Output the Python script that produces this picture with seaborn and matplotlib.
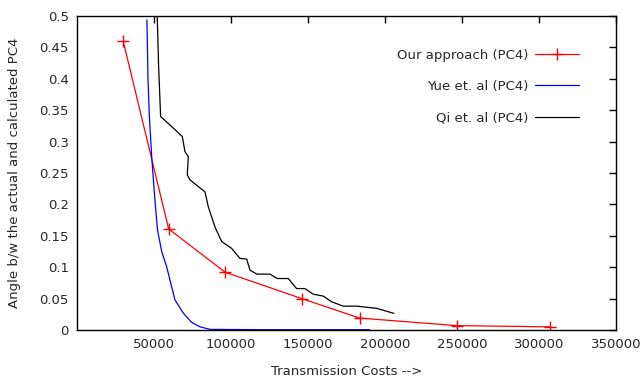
import numpy as np, pandas as pd
import matplotlib
matplotlib.use("Agg")
import matplotlib.pyplot as plt
import seaborn as sns

# Our approach (PC4)
ours_x = [30000, 59500, 96200, 146000, 183500, 246500, 307000]
ours_y = [0.460, 0.161, 0.092, 0.050, 0.019, 0.007, 0.005]

# Yue et. al (PC4)
yue_x = [45400, 46100, 47000, 48500, 50500, 52300, 55000, 58200, 63600, 69000, 74500, 80000, 86400, 120000, 190000]
yue_y = [0.494, 0.400, 0.340, 0.276, 0.210, 0.159, 0.125, 0.101, 0.048, 0.027, 0.012, 0.005, 0.001, 0.0005, 0.0005]

# Qi et. al (PC4)
qi_x = [52100, 53000, 54300, 61000, 68400, 70100, 72300, 71600, 73400, 83100, 85300, 89600, 93900,
        100400, 105800, 110200, 112300, 116700, 125300, 130100, 137200, 142600, 148000, 153400,
        159900, 165300, 172900, 181600, 194600, 205800]
qi_y = [0.500, 0.420, 0.340, 0.325, 0.308, 0.284, 0.276, 0.247, 0.239, 0.220, 0.196, 0.164, 0.141,
        0.130, 0.114, 0.113, 0.0955, 0.089, 0.089, 0.082, 0.082, 0.066, 0.066, 0.057,
        0.054, 0.045, 0.038, 0.038, 0.0345, 0.0265]

xticks = [50000, 100000, 150000, 200000, 250000, 300000, 350000]
yticks = [0, 0.05, 0.1, 0.15, 0.2, 0.25, 0.3, 0.35, 0.4, 0.45, 0.5]
ytick_labels = ["0", "0.05", "0.1", "0.15", "0.2", "0.25", "0.3", "0.35", "0.4", "0.45", "0.5"]

sns.set_style("white")
plt.rcParams["font.family"] = ["DejaVu Sans"]
plt.rcParams["font.size"] = 9.5

fig = plt.figure(figsize=(6.4, 3.84), dpi=100)
ax = fig.add_axes([0.1203, 0.1406, 0.8422, 0.8177])

sns.lineplot(x=ours_x, y=ours_y, ax=ax, sort=False, color="#ff0000", lw=0.9,
             marker="+", markersize=9, markeredgewidth=1.0, markeredgecolor="#ff0000",
             label="Our approach (PC4)")
sns.lineplot(x=yue_x, y=yue_y, ax=ax, sort=False, color="#0000ff", lw=0.9,
             label="Yue et. al (PC4)")
sns.lineplot(x=qi_x, y=qi_y, ax=ax, sort=False, color="#000000", lw=0.9,
             label="Qi et. al (PC4)")

ax.set_xlim(0, 350000)
ax.set_ylim(0, 0.5)
ax.set_xticks(xticks)
ax.set_xticklabels([str(t) for t in xticks])
ax.set_yticks(yticks)
ax.set_yticklabels(ytick_labels)
ax.tick_params(direction="in", length=5, width=1, top=True, right=True, color="black",
               labelsize=9.5, pad=6)
for s in ax.spines.values():
    s.set_color("black")
    s.set_linewidth(1.0)

ax.set_xlabel("Transmission Costs -->", fontsize=9.5, labelpad=10)
ax.set_ylabel("Angle b/w the actual and calculated PC4", fontsize=9.5, labelpad=13)

ax.legend(loc="upper right", bbox_to_anchor=(0.953, 0.934), frameon=False, markerfirst=False,
          handlelength=3.3, handletextpad=0.5, labelspacing=1.4, fontsize=9.5)

fig.savefig("out.png", dpi=100)
plt.close(fig)
